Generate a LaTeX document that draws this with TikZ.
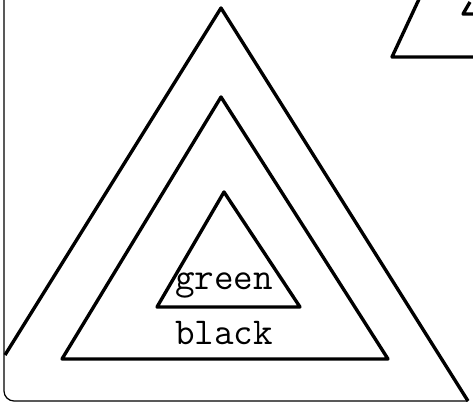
\documentclass[tikz,border=0pt]{standalone}
\usepackage{tikz}

\tikzset{
  tri/.style={line width=2.4pt, line join=round},
  edge/.style={line width=0.9pt},
  word/.style={font=\ttfamily\fontsize{27}{30}\selectfont, inner sep=0pt}
}

\begin{document}
\begin{tikzpicture}
        \useasboundingbox (0,0) rectangle (11.825,10.125);
        % sheet edge
        \draw[edge] (0.1,10.125) -- (0.1,0.35) to[out=-90,in=180] (0.35,0.1) -- (11.7,0.1);
        % outer triangle
        \draw[tri] (0.125,1.25) -- (5.525,9.925) -- (11.7,0.1);
        % middle triangle
        \draw[tri] (1.55,1.15) -- (5.525,7.7) -- (9.7,1.15) -- cycle;
        % inner triangle
        \draw[tri] (3.925,2.45) -- (5.6,5.325) -- (7.5,2.45) -- cycle;
        \node[word] (green) at (5.6,3.0) {green};
        \node[word] (black) at (5.6,1.8) {black};
        % next figure, cut off
        \draw[tri] (10.5,10.2) -- (9.8,8.7) -- (11.9,8.7);
        \draw[tri] (11.75,10.075) -- (11.575,9.775) -- (11.9,9.775);
      \end{tikzpicture}
\end{document}
